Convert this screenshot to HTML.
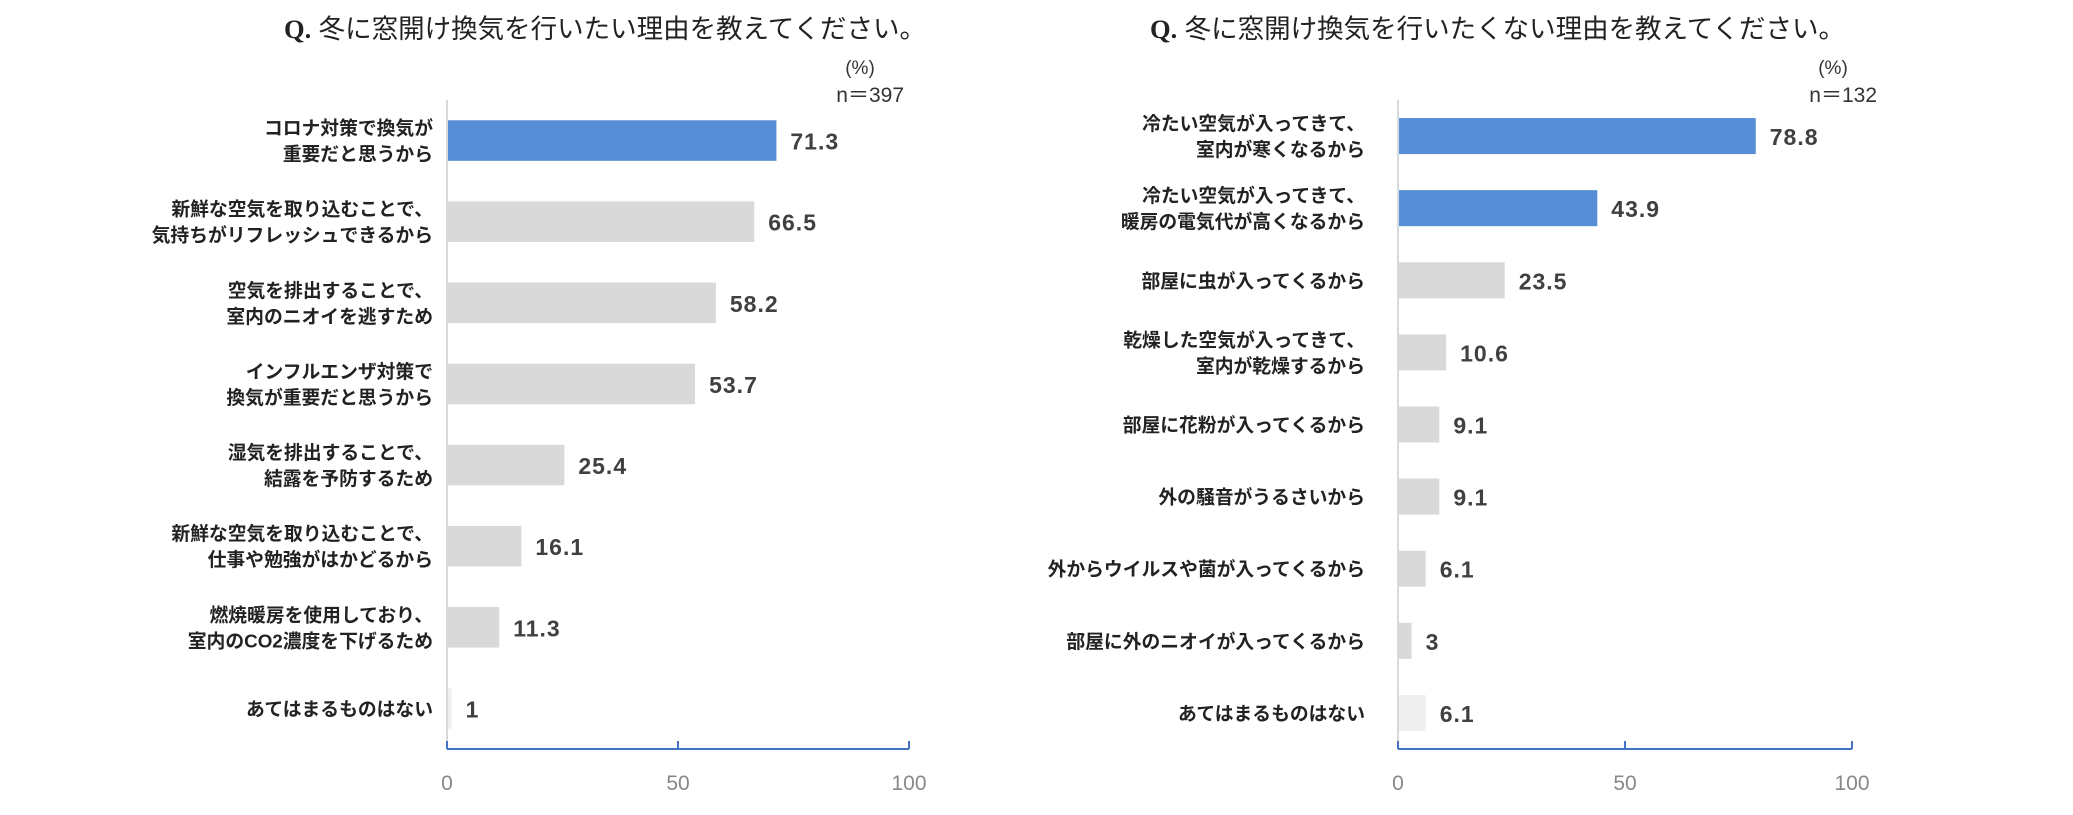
<!DOCTYPE html>
<html><head><meta charset="utf-8"><style>
html,body{margin:0;padding:0;background:#fff;width:2073px;height:815px;overflow:hidden}
svg text{font-family:"Liberation Sans","Noto Sans CJK JP",sans-serif}
</style></head><body>
<svg id="s" width="2073" height="815" viewBox="0 0 2073 815">
<text x="284" y="38" font-size="26.5" fill="#222"><tspan font-family="Liberation Serif" font-weight="bold">Q.</tspan> 冬に窓開け換気を行いたい理由を教えてください。</text>
<text x="860" y="74" font-size="19" fill="#333" text-anchor="middle">(%)</text>
<text x="904" y="102" font-size="21" fill="#333" text-anchor="end">n＝397</text>
<text x="1150" y="38" font-size="26.5" fill="#222"><tspan font-family="Liberation Serif" font-weight="bold">Q.</tspan> 冬に窓開け換気を行いたくない理由を教えてください。</text>
<text x="1833" y="74" font-size="19" fill="#333" text-anchor="middle">(%)</text>
<text x="1877" y="102" font-size="21" fill="#333" text-anchor="end">n＝132</text>
</svg>
<script>
const leftCategories=[["コロナ対策で換気が","重要だと思うから"],["新鮮な空気を取り込むことで、","気持ちがリフレッシュできるから"],["空気を排出することで、","室内のニオイを逃すため"],["インフルエンザ対策で","換気が重要だと思うから"],["湿気を排出することで、","結露を予防するため"],["新鮮な空気を取り込むことで、","仕事や勉強がはかどるから"],["燃焼暖房を使用しており、","室内のCO2濃度を下げるため"],["あてはまるものはない"]];
const leftValues=[71.3,66.5,58.2,53.7,25.4,16.1,11.3,1];
const leftHighlight=[true,false,false,false,false,false,false,false];
const rightCategories=[["冷たい空気が入ってきて、","室内が寒くなるから"],["冷たい空気が入ってきて、","暖房の電気代が高くなるから"],["部屋に虫が入ってくるから"],["乾燥した空気が入ってきて、","室内が乾燥するから"],["部屋に花粉が入ってくるから"],["外の騒音がうるさいから"],["外からウイルスや菌が入ってくるから"],["部屋に外のニオイが入ってくるから"],["あてはまるものはない"]];
const rightValues=[78.8,43.9,23.5,10.6,9.1,9.1,6.1,3,6.1];
const rightHighlight=[true,true,false,false,false,false,false,false,false];
const tickValues=[0,50,100];
const NS="http://www.w3.org/2000/svg";
const svg=document.getElementById('s');
function mk(tag,attrs,txt){const e=document.createElementNS(NS,tag);for(const k in attrs)e.setAttribute(k,attrs[k]);if(txt!=null)e.textContent=txt;svg.appendChild(e);return e;}
function draw(side,cats,vals,hl,x0,x1,labelRight,barFrac){
  const top=100,bot=749;
  const xs=v=>x0+(x1-x0)*v/100;
  const band=(bot-top)/cats.length;
  const vl=mk('line',{x1:x0,y1:top,x2:x0,y2:bot,stroke:'#d9d9d9','stroke-width':2});
  
  
  cats.forEach((c,i)=>{
    const cy=top+band*(i+0.5),bh=band*barFrac;
    const last=i===cats.length-1;
    const r=mk('rect',{x:x0+1,y:cy-bh/2,width:Math.max(0,xs(vals[i])-x0-1),height:bh,fill:hl[i]?'#558ed5':(last?'#efefef':'#d9d9d9')});
    
    
    const v=mk('text',{x:xs(vals[i])+14,y:cy+9,'font-size':23,'font-weight':'bold','letter-spacing':1,fill:'#404040'},String(vals[i]));
    
    
    c.forEach((ln,j)=>{
      const ly=cy+7+(j-(c.length-1)/2)*26;
      const t=mk('text',{x:labelRight,y:ly,'font-size':18.8,'font-weight':'bold',fill:'#222','text-anchor':'end'},ln);
      
      
    });
  });
  const ax=mk('line',{x1:x0,y1:bot,x2:x1,y2:bot,stroke:'#4472c4','stroke-width':2});
  
  
  tickValues.forEach(tv=>{
    const tk=mk('line',{x1:xs(tv),y1:bot,x2:xs(tv),y2:bot-8,stroke:'#4472c4','stroke-width':2});
    
    
    const tl=mk('text',{x:xs(tv),y:bot+41,'font-size':21,fill:'#888','text-anchor':'middle'},String(tv));
    
    
  });
}
draw('left',leftCategories,leftValues,leftHighlight,447,909,433,0.5);
draw('right',rightCategories,rightValues,rightHighlight,1398,1852,1365,0.5);
</script>
</body></html>
